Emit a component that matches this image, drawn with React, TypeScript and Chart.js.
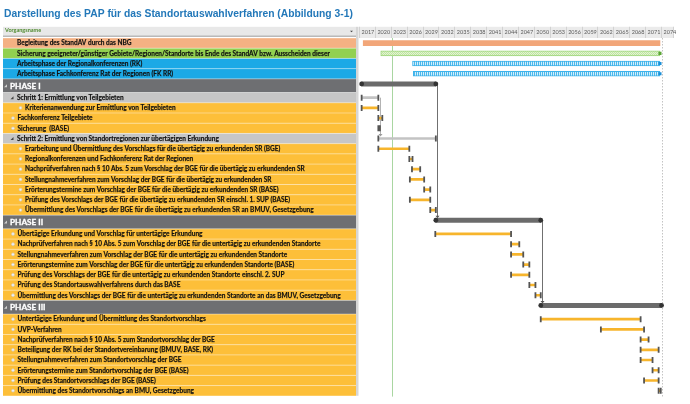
import { useEffect, useRef } from 'react';
import { Chart, registerables } from 'chart.js';
Chart.register(...registerables);

const TITLE = 'Darstellung des PAP für das Standortauswahlverfahren (Abbildung 3-1)';
const HEADER_LABEL = 'Vorgangsname';
const TICK_YEARS = [2017, 2020, 2023, 2026, 2029, 2032, 2035, 2038, 2041, 2044, 2047, 2050, 2053, 2056, 2059, 2062, 2065, 2068, 2071, 2074];
const TODAY = 2023.3;
const PROJECT_END = 2074.1;

const TASK_NAMES = [
  'Begleitung des StandAV durch das NBG',
  'Sicherung geeigneter/günstiger Gebiete/Regionen/Standorte bis Ende des StandAV bzw. Ausscheiden dieser',
  'Arbeitsphase der Regionalkonferenzen (RK)',
  'Arbeitsphase Fachkonferenz Rat der Regionen (FK RR)',
  'PHASE I',
  'Schritt 1: Ermittlung von Teilgebieten',
  'Kriterienanwendung zur Ermittlung von Teilgebieten',
  'Fachkonferenz Teilgebiete',
  'Sicherung  (BASE)',
  'Schritt 2: Ermittlung von Standortregionen zur übertägigen Erkundung',
  'Erarbeitung und Übermittlung des Vorschlags für die übertägig zu erkundenden SR (BGE)',
  'Regionalkonferenzen und Fachkonferenz Rat der Regionen',
  'Nachprüfverfahren nach § 10 Abs. 5 zum Vorschlag der BGE für die übertägig zu erkundenden SR',
  'Stellungnahmeverfahren zum Vorschlag der BGE für die übertägig zu erkundenden SR',
  'Erörterungstermine zum Vorschlag der BGE für die übertägig zu erkundenden SR (BASE)',
  'Prüfung des Vorschlags der BGE für die übertägig zu erkundenden SR einschl. 1. SUP (BASE)',
  'Übermittlung des Vorschlags der BGE für die übertägig zu erkundenden SR an BMUV, Gesetzgebung',
  'PHASE II',
  'Übertägige Erkundung und Vorschlag für untertägige Erkundung',
  'Nachprüfverfahren nach § 10 Abs. 5 zum Vorschlag der BGE für die untertägig zu erkundenden Standorte',
  'Stellungnahmeverfahren zum Vorschlag der BGE für die untertägig zu erkundenden Standorte',
  'Erörterungstermine zum Vorschlag der BGE für die untertägig zu erkundenden Standorte (BASE)',
  'Prüfung des Vorschlags der BGE für die untertägig zu erkundenden Standorte einschl. 2. SUP',
  'Prüfung des Standortauswahlverfahrens durch das BASE',
  'Übermittlung des Vorschlags der BGE für die untertägig zu erkundenden Standorte an das BMUV, Gesetzgebung',
  'PHASE III',
  'Untertägige Erkundung und Übermittlung des Standortvorschlags',
  'UVP-Verfahren',
  'Nachprüfverfahren nach § 10 Abs. 5 zum Standortvorschlag der BGE',
  'Beteiligung der RK bei der Standortvereinbarung (BMUV, BASE, RK)',
  'Stellungnahmeverfahren zum Standortvorschlag der BGE',
  'Erörterungstermine zum Standortvorschlag der BGE (BASE)',
  'Prüfung des Standortvorschlags der BGE (BASE)',
  'Übermittlung des Standortvorschlags an BMU, Gesetzgebung',
];

const TASK_KINDS = [
  'nbg', 'secure', 'rk', 'rk',
  'phase', 'step', 'sub', 'task', 'task', 'step', 'sub', 'sub', 'sub', 'sub', 'sub', 'sub', 'sub',
  'phase', 'task', 'task', 'task', 'task', 'task', 'task', 'task',
  'phase', 'task', 'task', 'task', 'task', 'task', 'task', 'task', 'task',
];

const TASK_START = [
  2017.8, 2021.1, 2027.1, 2027.25,
  2017.5, 2017.5, 2017.5, 2020.65, 2020.65, 2020.65, 2020.65, 2026.5, 2027.0, 2026.6, 2029.3, 2026.6, 2030.45,
  2031.5, 2031.4, 2045.7, 2045.7, 2048.0, 2045.7, 2049.15, 2050.3,
  2051.3, 2051.3, 2062.65, 2070.15, 2070.15, 2070.15, 2072.4, 2070.8, 2073.55,
];

const TASK_END = [
  2073.8, 2073.8, 2073.8, 2073.8,
  2031.5, 2020.65, 2020.65, 2021.4, 2020.95, 2031.5, 2026.5, 2027.1, 2028.55, 2029.3, 2030.45, 2030.45, 2031.5,
  2051.3, 2045.7, 2047.25, 2048.0, 2049.15, 2049.15, 2050.3, 2051.3,
  2074.1, 2070.15, 2070.8, 2071.65, 2073.55, 2072.4, 2073.55, 2073.55, 2073.95,
];

// predecessor -> successor links (row indices)
const LINKS = [[5, 9], [4, 17], [17, 25]];

// row positions on the y scale (phase rows are a bit taller)
const ROW_POS: number[] = (() => {
  const out: number[] = [];
  let p = 0;
  TASK_KINDS.forEach((k) => {
    out.push(p);
    p += k === 'phase' ? 1.34 : 1;
  });
  return out;
})();

const ROW_FILL: Record<string, string> = {
  nbg: '#f4b183',
  secure: '#92d050',
  rk: '#1ca9e6',
  phase: '#6e6f72',
  step: '#c6c6c6',
  sub: '#fdbf39',
  task: '#fdbf39',
};

const LABEL_FONT = 'Lato';

function idx(kinds: string[]) {
  return TASK_KINDS.map((k, i) => (kinds.includes(k) ? i : -1)).filter((i) => i >= 0);
}

function stripePattern(a: string, b: string, w: number) {
  const c = document.createElement('canvas');
  c.width = w;
  c.height = 6;
  const g = c.getContext('2d')!;
  g.fillStyle = b;
  g.fillRect(0, 0, w, 6);
  g.fillStyle = a;
  g.fillRect(0, 0, Math.ceil(w / 2), 6);
  return g.createPattern(c, 'repeat')!;
}

function checkPattern(a: string, b: string) {
  const c = document.createElement('canvas');
  c.width = 2;
  c.height = 2;
  const g = c.getContext('2d')!;
  g.fillStyle = b;
  g.fillRect(0, 0, 2, 2);
  g.fillStyle = a;
  g.fillRect(0, 0, 1, 1);
  g.fillRect(1, 1, 1, 1);
  return g.createPattern(c, 'repeat')!;
}

const tablePlugin = {
  id: 'ganttTable',
  beforeDraw(chart: any) {
    const { ctx, chartArea } = chart;
    const xs = chart.scales.x;
    const ys = chart.scales.y;
    ctx.save();
    ctx.fillStyle = '#ffffff';
    ctx.fillRect(0, 0, chart.width, chart.height);

    // title
    ctx.fillStyle = '#2378b9';
    ctx.font = `bold 10.3px "Liberation Sans", Arial, sans-serif`;
    ctx.textBaseline = 'alphabetic';
    ctx.textAlign = 'left';
    ctx.fillText(TITLE, 4, 16.5);

    const hTop = xs.top;
    const hBot = xs.bottom;
    const tL = 3;
    const tR = 356;

    // table header
    ctx.fillStyle = '#e8e8e8';
    ctx.fillRect(tL, hTop, tR - tL, hBot - hTop - 2.4);
    ctx.fillStyle = '#b9b9b9';
    ctx.fillRect(tL, hBot - 2.6, tR - tL, 1.6);
    ctx.fillStyle = '#4f8a2f';
    ctx.font = `bold 5.5px ${LABEL_FONT}`;
    ctx.textBaseline = 'middle';
    ctx.fillText(HEADER_LABEL, 5, hTop + 3.8);
    ctx.fillStyle = '#444';
    ctx.beginPath();
    ctx.moveTo(350, hTop + 4);
    ctx.lineTo(353, hTop + 4);
    ctx.lineTo(351.5, hTop + 5.5);
    ctx.closePath();
    ctx.fill();

    // timeline header
    ctx.fillStyle = '#ebebeb';
    ctx.fillRect(chartArea.left, hTop, chartArea.right - chartArea.left, hBot - hTop);
    ctx.strokeStyle = '#d2d2d2';
    ctx.lineWidth = 1;
    xs.ticks.forEach((t: any) => {
      const px = Math.round(xs.getPixelForValue(t.value)) + 0.5;
      ctx.beginPath();
      ctx.moveTo(px, hTop);
      ctx.lineTo(px, hBot);
      ctx.stroke();
    });
    ctx.beginPath();
    ctx.moveTo(chartArea.right - 0.5, hTop);
    ctx.lineTo(chartArea.right - 0.5, hBot);
    ctx.stroke();

    // rows
    const n = TASK_NAMES.length;
    for (let i = 0; i < n; i++) {
      const kind = TASK_KINDS[i];
      const top = ys.getPixelForValue(ROW_POS[i] - 0.5);
      const bot = i < n - 1 ? ys.getPixelForValue(ROW_POS[i + 1] - 0.5) : ys.getPixelForValue(ROW_POS[i] + 0.5);
      ctx.fillStyle = ROW_FILL[kind];
      ctx.fillRect(tL, top, tR - tL, bot - top);
      ctx.strokeStyle = 'rgba(255,255,255,0.55)';
      ctx.lineWidth = 0.7;
      ctx.beginPath();
      ctx.moveTo(tL, top);
      ctx.lineTo(tR, top);
      ctx.stroke();
      const cy = (top + bot) / 2;
      ctx.textBaseline = 'middle';
      if (kind === 'phase') {
        ctx.fillStyle = '#d0d0d0';
        ctx.beginPath();
        ctx.moveTo(7, cy - 1.5);
        ctx.lineTo(7, cy + 1.5);
        ctx.lineTo(4, cy + 1.5);
        ctx.closePath();
        ctx.fill();
        ctx.fillStyle = '#ffffff';
        ctx.strokeStyle = '#ffffff';
        ctx.lineWidth = 0.3;
        ctx.font = `bold 8.2px ${LABEL_FONT}`;
        ctx.fillText(TASK_NAMES[i], 10, cy + 0.3);
        ctx.strokeText(TASK_NAMES[i], 10, cy + 0.3);
      } else {
        let tx = 17;
        if (kind === 'step') {
          ctx.fillStyle = '#444';
          ctx.beginPath();
          ctx.moveTo(13.5, cy - 1.5);
          ctx.lineTo(13.5, cy + 1.5);
          ctx.lineTo(10.5, cy + 1.5);
          ctx.closePath();
          ctx.fill();
        } else if (kind === 'task' || kind === 'sub') {
          const bx = kind === 'sub' ? 20.5 : 13;
          tx = kind === 'sub' ? 25 : 17.5;
          ctx.fillStyle = '#f3f3f3';
          ctx.strokeStyle = '#c9c9c9';
          ctx.lineWidth = 0.6;
          ctx.beginPath();
          ctx.arc(bx, cy, 1.4, 0, Math.PI * 2);
          ctx.fill();
          ctx.stroke();
        }
        ctx.fillStyle = '#111111';
        ctx.strokeStyle = 'rgba(17,17,17,0.7)';
        ctx.lineWidth = 0.25;
        ctx.font = `bold 6.5px ${LABEL_FONT}`;
        ctx.fillText(TASK_NAMES[i], tx, cy + 0.2);
        ctx.strokeText(TASK_NAMES[i], tx, cy + 0.2);
      }
    }
    const lastBot = ys.getPixelForValue(ROW_POS[n - 1] + 0.5);
    ctx.fillStyle = '#d6d6d6';
    ctx.fillRect(tR, hTop, 2.5, lastBot - hTop);
    ctx.restore();
  },
  beforeDatasetsDraw(chart: any) {
    const { ctx, chartArea } = chart;
    const xs = chart.scales.x;
    const ys = chart.scales.y;
    ctx.save();
    // today line
    const tx = Math.round(xs.getPixelForValue(TODAY)) + 0.5;
    ctx.strokeStyle = '#a9d6a1';
    ctx.lineWidth = 1;
    ctx.beginPath();
    ctx.moveTo(tx, chartArea.top);
    ctx.lineTo(tx, chartArea.bottom);
    ctx.stroke();
    // project end dotted line
    const ex = Math.round(xs.getPixelForValue(PROJECT_END)) + 0.5;
    ctx.strokeStyle = '#c4c4c4';
    ctx.setLineDash([1.5, 1.5]);
    ctx.beginPath();
    ctx.moveTo(ex, chartArea.top);
    ctx.lineTo(ex, chartArea.bottom);
    ctx.stroke();
    ctx.setLineDash([]);
    // links
    LINKS.forEach(([a, b]) => {
      const isPhase = TASK_KINDS[a] === 'phase';
      const lx = Math.round(xs.getPixelForValue(TASK_END[a]) + 1.5) + 0.5;
      const y1 = ys.getPixelForValue(ROW_POS[a]);
      const y2 = ys.getPixelForValue(ROW_POS[b]) - 3;
      ctx.strokeStyle = isPhase ? '#707070' : '#b3b3b3';
      ctx.lineWidth = 1;
      ctx.beginPath();
      ctx.moveTo(lx, y1);
      ctx.lineTo(lx, y2);
      ctx.stroke();
      ctx.fillStyle = isPhase ? '#555' : '#9a9a9a';
      ctx.beginPath();
      ctx.moveTo(lx - 2, y2 - 1.5);
      ctx.lineTo(lx + 2, y2 - 1.5);
      ctx.lineTo(lx, y2 + 1);
      ctx.closePath();
      ctx.fill();
    });
    ctx.restore();
  },
};

export default function App() {
  const ref = useRef<HTMLCanvasElement>(null);
  useEffect(() => {
    const canvas = ref.current!;
    const bar = (rows: number[]) => rows.map((i) => ({ x: [TASK_START[i], TASK_END[i]], y: ROW_POS[i] }));
    const caps = idx(['step', 'sub', 'task']).flatMap((i) => [
      { x: TASK_START[i], y: ROW_POS[i] },
      { x: TASK_END[i], y: ROW_POS[i] },
    ]);
    const phaseEnds = idx(['phase']).flatMap((i) => [
      { x: TASK_START[i], y: ROW_POS[i] },
      { x: TASK_END[i], y: ROW_POS[i] },
    ]);
    const endMarkRows = idx(['secure', 'rk']);
    const endMarks = endMarkRows.map((i) => ({ x: TASK_END[i], y: ROW_POS[i] }));
    const endMarkColors = endMarkRows.map((i) => (TASK_KINDS[i] === 'secure' ? '#5aa534' : '#1b8fd8'));

    const common = { grouped: false, borderSkipped: false, borderRadius: 0, order: 2 };
    const chart = new Chart(canvas, {
      type: 'bar',
      data: {
        datasets: [
          {
            type: 'scatter',
            label: 'caps',
            data: caps,
            pointStyle: 'line',
            pointRotation: 90,
            pointRadius: 3,
            pointBorderWidth: 1.8,
            pointBorderColor: '#545454',
            pointBackgroundColor: '#545454',
            showLine: false,
            order: 0,
          } as any,
          {
            type: 'scatter',
            label: 'phase ends',
            data: phaseEnds,
            pointStyle: 'circle',
            pointRadius: 2.4,
            pointBorderWidth: 0,
            pointBackgroundColor: '#333',
            showLine: false,
            order: 0,
          } as any,
          {
            type: 'scatter',
            label: 'end marks',
            data: endMarks,
            pointStyle: 'rect',
            pointRadius: 2.2,
            pointBorderWidth: 0,
            pointBackgroundColor: endMarkColors,
            showLine: false,
            order: 0,
          } as any,
          { ...common, label: 'NBG', data: bar(idx(['nbg'])), backgroundColor: '#f2a679', barThickness: 5 } as any,
          {
            ...common,
            label: 'Sicherung',
            data: bar(idx(['secure'])),
            backgroundColor: checkPattern('#bfe5a0', '#e2f3d3'),
            borderColor: '#9dd57a',
            borderWidth: 1,
            barThickness: 5,
          } as any,
          {
            ...common,
            label: 'Arbeitsphasen',
            data: bar(idx(['rk'])),
            backgroundColor: stripePattern('#4bb9ec', '#d4eefb', 2),
            borderColor: '#3cb2ea',
            borderWidth: 1,
            barThickness: 5,
          } as any,
          { ...common, label: 'Phasen', data: bar(idx(['phase'])), backgroundColor: '#6b6b6b', barThickness: 4.5 } as any,
          { ...common, label: 'Schritte', data: bar(idx(['step'])), backgroundColor: '#c3c3c3', barThickness: 2 } as any,
          { ...common, label: 'Vorgänge', data: bar(idx(['sub', 'task'])), backgroundColor: '#f7b52c', barThickness: 2 } as any,
        ],
      },
      options: {
        indexAxis: 'y',
        animation: false,
        responsive: false,
        maintainAspectRatio: false,
        events: [],
        layout: { padding: { left: 359, right: 16, top: 26.8, bottom: 7.4 } },
        plugins: { legend: { display: false }, tooltip: { enabled: false }, title: { display: false } },
        scales: {
          x: {
            type: 'linear',
            position: 'top',
            min: 2017,
            max: 2076.45,
            offset: false,
            grid: { display: false, drawTicks: false },
            border: { display: false },
            afterBuildTicks: (s: any) => {
              s.ticks = TICK_YEARS.map((v) => ({ value: v }));
            },
            ticks: {
              autoSkip: false,
              maxRotation: 0,
              minRotation: 0,
              align: 'start',
              labelOffset: 2.5,
              padding: 2.3,
              color: '#5a5a5a',
              font: { size: 5.5, family: LABEL_FONT },
              callback: (v: any) => String(v),
            },
          },
          y: { type: 'linear', reverse: true, min: -0.5, max: 34.6, offset: false, display: false, grid: { offset: false } },
        },
      } as any,
      plugins: [tablePlugin],
    });
    return () => chart.destroy();
  }, []);
  return (
    <div style={{ position: 'fixed', left: 0, top: 0, width: 690, height: 404, background: '#fff' }}>
      <canvas ref={ref} width={690} height={404} style={{ width: 690, height: 404, display: 'block' }} />
    </div>
  );
}
